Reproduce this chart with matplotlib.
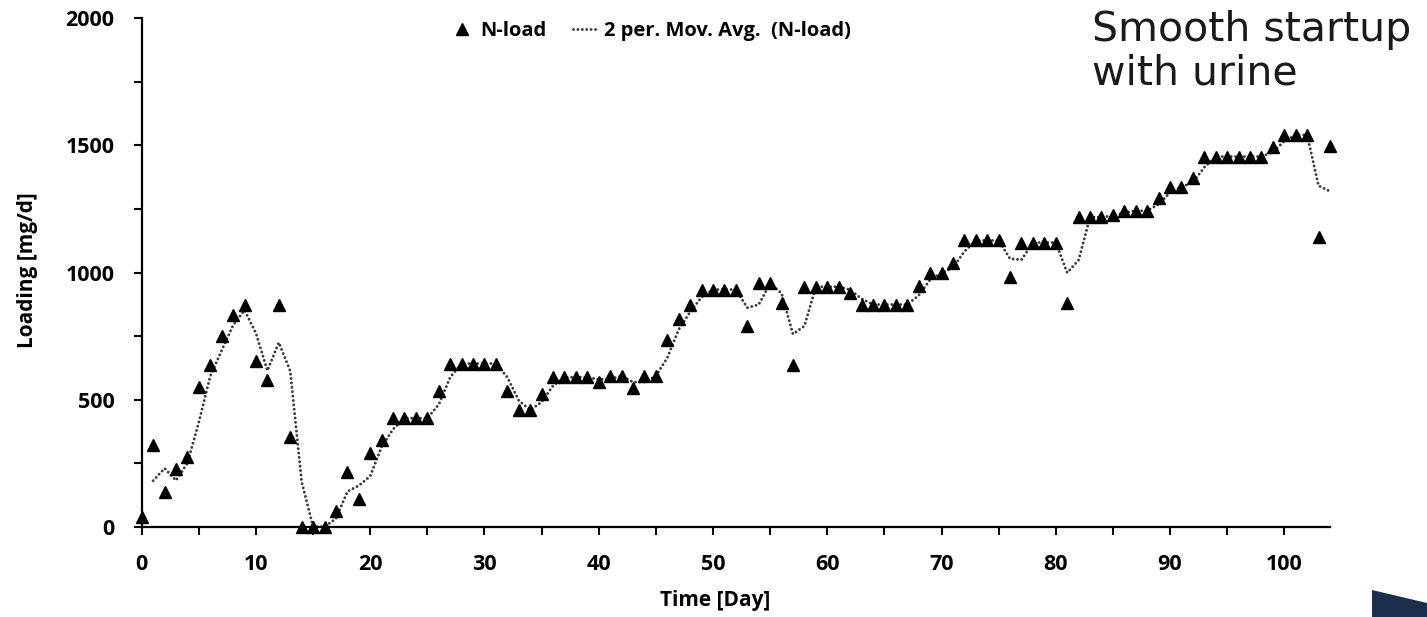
import numpy as np
import pandas as pd
import matplotlib.pyplot as plt
from matplotlib.patches import Polygon
from matplotlib.ticker import MultipleLocator


# N-load readings, one per day
days = np.arange(0, 105)
n_load = [40, 322, 137, 227, 273, 549, 636, 752, 833, 871,
          650, 578, 871, 354, 0, 0, 0, 63, 214, 109,
          289, 340, 427, 427, 427, 427, 534, 642, 642, 642,
          642, 642, 534, 459, 459, 521, 588, 588, 588, 588,
          570, 593, 593, 545, 593, 593, 736, 816, 873, 933,
          933, 933, 933, 790, 957, 957, 880, 635, 944, 944,
          944, 944, 920, 874, 874, 874, 874, 874, 945, 998,
          998, 1039, 1126, 1126, 1126, 1126, 982, 1118, 1118, 1118,
          1118, 880, 1218, 1218, 1218, 1227, 1243, 1243, 1243, 1293,
          1336, 1336, 1372, 1456, 1456, 1456, 1456, 1456, 1456, 1492,
          1541, 1541, 1541, 1141, 1498]

x_ticks = [0, 10, 20, 30, 40, 50, 60, 70, 80, 90, 100]
y_ticks = [0, 500, 1000, 1500, 2000]

plt.rcParams['font.family'] = ['Open Sans', 'DejaVu Sans']

W, H = 1427, 617
fig = plt.figure(figsize=(W / 100, H / 100), dpi=100)
ax = fig.add_axes([141.7 / W, 1 - 526.7 / H, (1330 - 141.7) / W, (526.7 - 18.3) / H])

mov_avg = pd.Series(n_load).rolling(2).mean()      # 2 period moving average

ax.plot(days, n_load, linestyle='none', marker='^', markersize=9,
        color='black', label='N-load', clip_on=False, zorder=3)
ax.plot(days, mov_avg, linestyle=(0, (0.01, 1.5)), linewidth=2.1, color='#3a3a3a',
        dash_capstyle='round', label='2 per. Mov. Avg.  (N-load)', zorder=2)

ax.set_xlim(0, 104)
ax.set_ylim(0, 2000)
ax.set_xticks(x_ticks)
ax.set_yticks(y_ticks)
ax.xaxis.set_minor_locator(MultipleLocator(5))
ax.yaxis.set_minor_locator(MultipleLocator(250))

for s in ['top', 'right']:
    ax.spines[s].set_visible(False)
for s in ['left', 'bottom']:
    ax.spines[s].set_linewidth(1.6)

ax.tick_params(which='both', direction='out', length=5.5, width=1.5)
ax.tick_params(axis='both', which='major', labelsize=15.5, pad=14)
for lab in ax.get_xticklabels() + ax.get_yticklabels():
    lab.set_fontweight('bold')

ax.set_xlabel('Time [Day]', fontsize=15, fontweight='bold')
ax.xaxis.set_label_coords((715 - 141.7) / (1330 - 141.7), -0.125)
ax.set_ylabel('Loading [mg/d]', fontsize=15, fontweight='bold', va='center')
ax.yaxis.set_label_coords(-0.0957, 0.505)

leg = fig.legend(loc='center left', bbox_to_anchor=(449 / W, 1 - 31 / H), ncol=2,
                 frameon=False, prop={'size': 14.5, 'weight': 'bold'},
                 handlelength=1.3, handletextpad=0.25, columnspacing=1.3,
                 borderpad=0, borderaxespad=0, numpoints=1)
leg.legend_handles[0].set_markersize(8)

fig.text(1092 / W, 1 - 10 / H, 'Smooth startup\nwith urine', fontsize=29.5,
         family='DejaVu Sans', color='#1a1a1a', ha='left', va='top',
         linespacing=1.12)

# dark corner shape bottom right
corner = [(1372 / W, 0), (1372 / W, 1 - 590 / H), (1, 1 - 603 / H), (1, 0)]
fig.patches.append(Polygon(corner, closed=True, transform=fig.transFigure,
                           facecolor='#1c2f4d', edgecolor='none'))

fig.savefig('out.png', dpi=100)
